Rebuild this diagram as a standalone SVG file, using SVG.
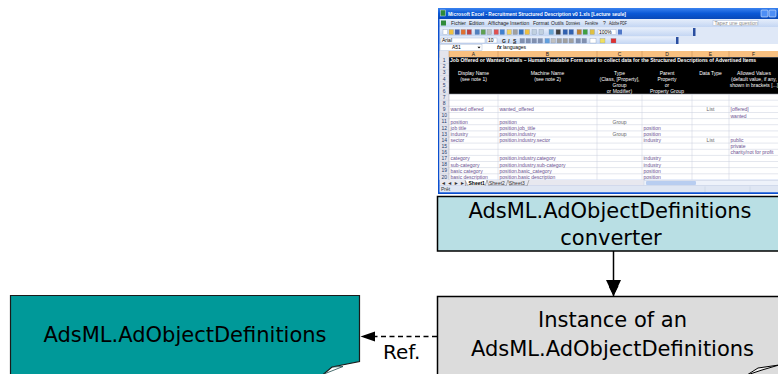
<svg xmlns="http://www.w3.org/2000/svg" width="778" height="374" viewBox="0 0 778 374">
<defs>
<style>
.lbl{font-family:"DejaVu Sans",Verdana,sans-serif;font-size:21px;fill:#000;text-anchor:middle}
.ref{font-family:"DejaVu Sans",Verdana,sans-serif;font-size:20px;fill:#000}
.xs{font-family:"Liberation Sans",Arial,sans-serif;font-size:5px}
.cell{fill:#6a5090}
.hd{fill:#fff;text-anchor:middle}
.mid{text-anchor:middle}
.rn{fill:#243a6a;text-anchor:middle}
.grid{stroke:#c9cfdc;stroke-width:0.5}
.ico{stroke:#7a8aa8;stroke-width:0.3}
</style>
<linearGradient id="tb" x1="0" y1="0" x2="0" y2="1">
<stop offset="0" stop-color="#3a82ef"/><stop offset="0.5" stop-color="#0a58d6"/><stop offset="1" stop-color="#0848b8"/>
</linearGradient>
<linearGradient id="bar" x1="0" y1="0" x2="0" y2="1">
<stop offset="0" stop-color="#e6eefb"/><stop offset="1" stop-color="#c4d6f3"/>
</linearGradient>
<marker id="arr" viewBox="0 0 10 10" refX="10" refY="5" markerWidth="10" markerHeight="10" orient="auto" markerUnits="userSpaceOnUse">
<path d="M0,0 L10,5 L0,10 Z" fill="#000"/>
</marker>
</defs>

<!-- Excel screenshot -->
<g id="excel-screenshot">
<rect x="438" y="8" width="345" height="186" fill="#0a4fd0"/>
<rect x="438" y="8" width="345" height="11" fill="url(#tb)"/>
<rect x="440.5" y="10" width="5" height="6" fill="#2f8a3a" stroke="#fff" stroke-width="0.4"/>
<text x="448" y="16.2" class="xs" fill="#fff" font-weight="bold" textLength="178" lengthAdjust="spacingAndGlyphs">Microsoft Excel - Recruitment Structured Description v0 1.xls  [Lecture seule]</text>
<rect x="761" y="10" width="7" height="7" rx="1" fill="#4d8ef5" stroke="#fff" stroke-width="0.5"/>
<rect x="769" y="10" width="7" height="7" rx="1" fill="#4d8ef5" stroke="#fff" stroke-width="0.5"/>
<!-- menu bar -->
<rect x="439.5" y="19" width="340" height="8" fill="url(#bar)"/>
<rect x="441" y="20.5" width="5" height="5" fill="#2f8a3a"/>
<g class="xs" fill="#222" font-size="4.2">
<text x="451" y="25">Fichier</text><text x="469" y="25">Edition</text><text x="488" y="25">Affichage</text>
<text x="510" y="25">Insertion</text><text x="533" y="25">Format</text><text x="551" y="25">Outils</text>
<text x="566" y="25" textLength="14" lengthAdjust="spacingAndGlyphs">Données</text>
<text x="585" y="25" textLength="13" lengthAdjust="spacingAndGlyphs">Fenêtre</text>
<text x="603" y="25">?</text>
<text x="609" y="25" textLength="18" lengthAdjust="spacingAndGlyphs">Adobe PDF</text>
</g>
<rect x="713" y="20.5" width="45" height="5" fill="#fff" stroke="#9aaccc" stroke-width="0.4"/>
<text x="714.5" y="24.7" class="xs" fill="#888" font-size="4">Tapez une question</text>
<!-- toolbars -->
<rect x="439.5" y="27" width="340" height="17" fill="#dfe8f7"/>
<rect x="440" y="28" width="254" height="8" fill="url(#bar)"/>
<rect x="693" y="28" width="2.5" height="8" fill="#2a4ea0"/>
<g class="ico">
<rect x="443" y="29.5" width="4.5" height="5" fill="#fff"/>
<rect x="449" y="29.5" width="4.5" height="5" fill="#f0c040"/>
<rect x="455" y="29.5" width="4.5" height="5" fill="#4060b0"/>
<rect x="461" y="29.5" width="4.5" height="5" fill="#e07030"/>
<rect x="467" y="29.5" width="4.5" height="5" fill="#c04040"/>
<rect x="475" y="29.5" width="4.5" height="5" fill="#5080c0"/>
<rect x="481" y="29.5" width="4.5" height="5" fill="#60a050"/>
<rect x="487" y="29.5" width="4.5" height="5" fill="#c0c0c0"/>
<rect x="494" y="29.5" width="4.5" height="5" fill="#e05050"/>
<rect x="500" y="29.5" width="4.5" height="5" fill="#4080d0"/>
<rect x="507" y="29.5" width="4.5" height="5" fill="#f0d060"/>
<rect x="513" y="29.5" width="4.5" height="5" fill="#a0a0a0"/>
<rect x="519" y="29.5" width="4.5" height="5" fill="#3070c0"/>
<rect x="525" y="29.5" width="4.5" height="5" fill="#f0c040"/>
<rect x="532" y="29.5" width="4.5" height="5" fill="#c0d0e0"/>
<rect x="539" y="29.5" width="4.5" height="5" fill="#c0d0e0"/>
<rect x="549" y="29.5" width="4.5" height="5" fill="#60a0d0"/>
<rect x="556" y="29.5" width="4.5" height="5" fill="#404040"/>
<rect x="563" y="29.5" width="4.5" height="5" fill="#3060b0"/>
<rect x="569" y="29.5" width="4.5" height="5" fill="#3060b0"/>
<rect x="577" y="29.5" width="4.5" height="5" fill="#c08030"/>
<rect x="583" y="29.5" width="4.5" height="5" fill="#40a040"/>
<rect x="590" y="29.5" width="4.5" height="5" fill="#e0c040"/>
</g>
<rect x="598" y="29.5" width="18" height="5" fill="#fff" stroke="#9aaccc" stroke-width="0.4"/>
<text x="599" y="33.7" class="xs" font-size="4">100%</text>
<rect x="618" y="29.5" width="4" height="5" fill="#5078c8"/>
<rect x="440" y="37" width="237" height="7" fill="url(#bar)"/>
<rect x="676" y="37" width="2.5" height="7" fill="#2a4ea0"/>
<rect x="441" y="38" width="44" height="5" fill="#fff" stroke="#9aaccc" stroke-width="0.4"/>
<text x="442" y="42.2" class="xs" font-size="4">Arial</text>
<rect x="487" y="38" width="10" height="5" fill="#fff" stroke="#9aaccc" stroke-width="0.4"/>
<text x="488" y="42.2" class="xs" font-size="4">10</text>
<g class="xs" font-weight="bold" fill="#222" font-size="4.5">
<text x="502" y="42.5">G</text><text x="508" y="42.5" font-style="italic">I</text><text x="513" y="42.5" text-decoration="underline">S</text>
</g>
<g class="ico">
<rect x="520" y="38.5" width="4.5" height="4.5" fill="#8090b0"/>
<rect x="526" y="38.5" width="4.5" height="4.5" fill="#8090b0"/>
<rect x="532" y="38.5" width="4.5" height="4.5" fill="#8090b0"/>
<rect x="538" y="38.5" width="4.5" height="4.5" fill="#8090b0"/>
<rect x="545" y="38.5" width="4.5" height="4.5" fill="#60a0e0"/>
<rect x="551" y="38.5" width="4.5" height="4.5" fill="#c0c0c0"/>
<rect x="557" y="38.5" width="4.5" height="4.5" fill="#a0a0a0"/>
<rect x="563" y="38.5" width="4.5" height="4.5" fill="#a0a0a0"/>
<rect x="569" y="38.5" width="4.5" height="4.5" fill="#a0a0a0"/>
<rect x="576" y="38.5" width="4.5" height="4.5" fill="#8090b0"/>
<rect x="582" y="38.5" width="4.5" height="4.5" fill="#8090b0"/>
<rect x="590" y="38.5" width="6" height="4.5" fill="#fff"/>
<rect x="600" y="38.5" width="5" height="4.5" fill="#f0e060"/>
<rect x="611" y="38.5" width="5" height="4.5" fill="#e03030"/>
</g>
<!-- formula bar -->
<rect x="439.5" y="44" width="340" height="7" fill="#fff"/>
<rect x="440" y="44.5" width="42" height="6" fill="#fff" stroke="#9aaccc" stroke-width="0.4"/>
<text x="452" y="49.3" class="xs">A51</text>
<path d="M477.5,46.8 L480.5,46.8 L479,48.5 Z" fill="#000"/>
<text x="497" y="49.3" class="xs" font-style="italic" font-weight="bold">fx</text>
<text x="503" y="49.3" class="xs">languages</text>
<!-- column headers -->
<rect x="439.5" y="51" width="340" height="6.3" fill="#f8c080"/>
<rect x="439.5" y="51" width="9.5" height="6.3" fill="#e4e4ec"/>
<g class="xs mid" fill="#222">
<text x="473.5" y="55.8">A</text><text x="547.5" y="55.8">B</text><text x="619.5" y="55.8">C</text>
<text x="667" y="55.8">D</text><text x="710.5" y="55.8">E</text><text x="753.5" y="55.8">F</text>
</g>
<g stroke="#c08a50" stroke-width="0.5">
<line x1="449" y1="51" x2="449" y2="57.3"/><line x1="498" y1="51" x2="498" y2="57.3"/><line x1="597" y1="51" x2="597" y2="57.3"/>
<line x1="642" y1="51" x2="642" y2="57.3"/><line x1="692" y1="51" x2="692" y2="57.3"/><line x1="729" y1="51" x2="729" y2="57.3"/>
</g>
<!-- grid body -->
<rect x="439.5" y="57.3" width="340" height="122.6" fill="#fff"/>
<rect x="439.5" y="57.3" width="9.5" height="122.6" fill="#e4e4ec"/>
<rect x="449" y="57.3" width="331" height="36.8" fill="#000"/>
<g class="grid">
<line x1="498" y1="94.1" x2="498" y2="179.9"/><line x1="597" y1="94.1" x2="597" y2="179.9"/>
<line x1="642" y1="94.1" x2="642" y2="179.9"/><line x1="692" y1="94.1" x2="692" y2="179.9"/>
<line x1="729" y1="94.1" x2="729" y2="179.9"/>
<line x1="439.5" y1="63.4" x2="449" y2="63.4"/><line x1="439.5" y1="69.6" x2="449" y2="69.6"/>
<line x1="439.5" y1="75.7" x2="449" y2="75.7"/><line x1="439.5" y1="81.8" x2="449" y2="81.8"/>
<line x1="439.5" y1="87.9" x2="449" y2="87.9"/>
<line x1="439.5" y1="94.1" x2="780" y2="94.1"/><line x1="439.5" y1="100.2" x2="780" y2="100.2"/>
<line x1="439.5" y1="106.3" x2="780" y2="106.3"/><line x1="439.5" y1="112.5" x2="780" y2="112.5"/>
<line x1="439.5" y1="118.6" x2="780" y2="118.6"/><line x1="439.5" y1="124.7" x2="780" y2="124.7"/>
<line x1="439.5" y1="130.9" x2="780" y2="130.9"/><line x1="439.5" y1="137" x2="780" y2="137"/>
<line x1="439.5" y1="143.1" x2="780" y2="143.1"/><line x1="439.5" y1="149.3" x2="780" y2="149.3"/>
<line x1="439.5" y1="155.4" x2="780" y2="155.4"/><line x1="439.5" y1="161.5" x2="780" y2="161.5"/>
<line x1="439.5" y1="167.6" x2="780" y2="167.6"/><line x1="439.5" y1="173.8" x2="780" y2="173.8"/>
</g>
<line x1="449" y1="57.3" x2="449" y2="179.9" stroke="#a0a0b0" stroke-width="0.5"/>
<!-- row numbers -->
<g class="xs rn">
<text x="444.2" y="62.1">1</text><text x="444.2" y="68.2">2</text><text x="444.2" y="74.4">3</text>
<text x="444.2" y="80.5">4</text><text x="444.2" y="86.6">5</text><text x="444.2" y="92.7">6</text>
<text x="444.2" y="98.9">7</text><text x="444.2" y="105">8</text><text x="444.2" y="111.1">9</text>
<text x="444.2" y="117.3">10</text><text x="444.2" y="123.4">11</text><text x="444.2" y="129.5">12</text>
<text x="444.2" y="135.7">13</text><text x="444.2" y="141.8">14</text><text x="444.2" y="147.9">15</text>
<text x="444.2" y="154.1">16</text><text x="444.2" y="160.2">17</text><text x="444.2" y="166.3">18</text>
<text x="444.2" y="172.4">19</text><text x="444.2" y="178.6">20</text>
</g>
<!-- header block text -->
<text x="450" y="62.1" class="xs" fill="#fff" font-weight="bold" textLength="306" lengthAdjust="spacingAndGlyphs">Job Offered or Wanted Details – Human Readable Form used to collect data for the Structured Descriptions of Advertised Items</text>
<g class="xs hd">
<text x="473.5" y="74.6">Display Name</text><text x="473.5" y="80.7">(see note 1)</text>
<text x="547.5" y="74.6">Machine Name</text><text x="547.5" y="80.7">(see note 2)</text>
<text x="619.5" y="74.6">Type</text><text x="619.5" y="80.7">(Class, [Property],</text>
<text x="619.5" y="86.8">Group</text><text x="619.5" y="92.9">or Modifier)</text>
<text x="667" y="74.6">Parent</text><text x="667" y="80.7">Property</text>
<text x="667" y="86.8">or</text><text x="667" y="92.9">Property Group</text>
<text x="710.5" y="74.6">Data Type</text>
<text x="754" y="74.6">Allowed Values</text><text x="754" y="80.7">(default value, if any,</text>
<text x="754" y="86.8">shown in brackets [...]</text>
</g>
<!-- data cells -->
<g class="xs cell">
<text x="450.5" y="111.3">wanted offered</text><text x="499.5" y="111.3">wanted_offered</text>
<text x="730.5" y="111.3">[offered]</text><text x="730.5" y="117.5">wanted</text>
<text x="450.5" y="123.6">position</text><text x="499.5" y="123.6">position</text>
<text x="450.5" y="129.7">job title</text><text x="499.5" y="129.7">position.job_title</text><text x="643.5" y="129.7">position</text>
<text x="450.5" y="135.9">industry</text><text x="499.5" y="135.9">position.industry</text><text x="643.5" y="135.9">position</text>
<text x="450.5" y="142">sector</text><text x="499.5" y="142">position.industry.sector</text><text x="643.5" y="142">industry</text>
<text x="730.5" y="142">public</text><text x="730.5" y="148.1">private</text><text x="730.5" y="154.3">charity/not for profit</text>
<text x="450.5" y="160.4">category</text><text x="499.5" y="160.4">position.industry.category</text><text x="643.5" y="160.4">industry</text>
<text x="450.5" y="166.5">sub-category</text><text x="499.5" y="166.5">position.industry.sub-category</text><text x="643.5" y="166.5">industry</text>
<text x="450.5" y="172.6">basic category</text><text x="499.5" y="172.6">position.basic_category</text><text x="643.5" y="172.6">position</text>
<text x="450.5" y="178.8">basic description</text><text x="499.5" y="178.8">position.basic description</text><text x="643.5" y="178.8">position</text>
</g>
<g class="xs mid" fill="#666">
<text x="710.5" y="111.3">List</text><text x="710.5" y="142">List</text>
<text x="619.5" y="123.6">Group</text><text x="619.5" y="135.9">Group</text>
</g>
<!-- sheet tabs -->
<rect x="439.5" y="179.9" width="340" height="6" fill="#e8e8ef"/>
<text x="441" y="184.6" class="xs" font-size="4.5" fill="#333">◄ ◄ ► ►|</text>
<path d="M465,180 L468,186 L485,186 L487,180" fill="#fff" stroke="#555" stroke-width="0.4"/>
<text x="468.5" y="184.6" class="xs" font-weight="bold" font-size="4.5">Sheet1</text>
<text x="489" y="184.6" class="xs" font-size="4.5" fill="#333">Sheet2</text>
<text x="509" y="184.6" class="xs" font-size="4.5" fill="#333">Sheet3</text>
<path d="M487,180 L489,186 L506,186 L508,180 L510,186 L527,186 L529,180" fill="none" stroke="#555" stroke-width="0.4"/>
<rect x="644" y="180.5" width="136" height="5" fill="#eef2fa" stroke="#b0c0dc" stroke-width="0.3"/>
<rect x="646" y="181" width="50" height="4" rx="1" fill="#b8cdf0"/>
<!-- status bar -->
<rect x="439.5" y="186" width="340" height="6.3" fill="#dfe6f3"/>
<text x="441" y="190.7" class="xs" font-size="4.5" fill="#333">Prêt</text>
<g stroke="#b8c4d8" stroke-width="0.4"><line x1="705" y1="186.5" x2="705" y2="192"/><line x1="750" y1="186.5" x2="750" y2="192"/></g>
</g>

<!-- connectors -->
<g id="connectors">
<line x1="613.5" y1="251" x2="613.5" y2="296" stroke="#000" stroke-width="1.5" marker-end="url(#arr)"/>
<path d="M613.5,296 L606,280 L621,280 Z" fill="#000"/>
<line x1="437" y1="336.5" x2="362" y2="336.5" stroke="#000" stroke-width="1.3" stroke-dasharray="5,3.5"/>
<path d="M360.5,336.5 L375,331.5 L375,341.5 Z" fill="#000"/>
<text x="383" y="359" class="ref">Ref.</text>
</g>

<!-- converter node -->
<g id="converter">
<rect x="437.5" y="196.5" width="350" height="54.5" fill="#b9dfe4" stroke="#000" stroke-width="1.5"/>
<text x="610" y="218" class="lbl">AdsML.AdObjectDefinitions</text>
<text x="611" y="245" class="lbl">converter</text>
</g>

<!-- instance node -->
<g id="instance">
<rect x="437.5" y="296.5" width="350" height="90" fill="#dcdcdc" stroke="#000" stroke-width="1.5"/>
<path d="M779,365 L758,368 L747,375 L762,370 Z" fill="#f4f4f4" stroke="#000" stroke-width="1"/>
<text x="612.5" y="327.3" class="lbl">Instance of an</text>
<text x="612.5" y="355.7" class="lbl">AdsML.AdObjectDefinitions</text>
</g>

<!-- AdObjectDefinitions node -->
<g id="adobjectdefinitions">
<path d="M10.5,295.5 H359.5 V361.5 L332,367 L319,378 H10.5 Z" fill="#009999" stroke="#1a1a1a" stroke-width="1.2"/>
<path d="M332,367 L343,366.5 L324,374" fill="none" stroke="#1a4a4a" stroke-width="0.8"/>
<text x="185" y="341.7" class="lbl">AdsML.AdObjectDefinitions</text>
</g>
</svg>
